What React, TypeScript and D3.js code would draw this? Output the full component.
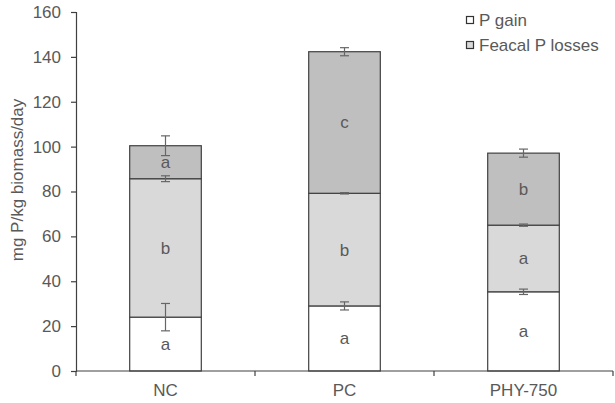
import React, { useEffect, useRef } from "react";
import * as d3 from "d3";

const categories = ["NC", "PC", "PHY-750"];
// stacked segments, bottom to top
const pGain = [24, 29, 35.3];
const middle = [61.7, 50.2, 29.7];
const feacal = [14.7, 63.1, 32.1];
const pGainErr = [6.1, 1.8, 1.2];
const middleErr = [1.3, 0.3, 0.5];
const feacalErr = [4.4, 1.8, 1.8];
const pGainLetters = ["a", "a", "a"];
const middleLetters = ["b", "b", "a"];
const feacalLetters = ["a", "c", "b"];
const yTicks = [0, 20, 40, 60, 80, 100, 120, 140, 160];
const legendLabels = ["P gain", "Feacal P losses"];

const W = 615;
const H = 403;
const margin = { top: 12, right: 2, bottom: 32, left: 76 };
const FONT = "Liberation Sans, Arial, sans-serif";
const FS = 17;
const TEXT = "#595959";
const LINE = "#404040";

const App = () => {
  const ref = useRef<SVGSVGElement>(null);

  useEffect(() => {
    const svg = d3.select(ref.current);
    svg.selectAll("*").remove();

    const x = d3
      .scaleBand()
      .domain(categories)
      .range([margin.left, W - margin.right])
      .paddingInner(0)
      .paddingOuter(0);
    const y = d3
      .scaleLinear()
      .domain([0, 160])
      .range([H - margin.bottom, margin.top]);

    const barW = x.bandwidth() * 0.4;

    const layers = [
      { vals: pGain, err: pGainErr, letters: pGainLetters, fill: "#ffffff" },
      { vals: middle, err: middleErr, letters: middleLetters, fill: "#d9d9d9" },
      { vals: feacal, err: feacalErr, letters: feacalLetters, fill: "#bfbfbf" },
    ];

    const g = svg.append("g");

    categories.forEach((c, i) => {
      let base = 0;
      const cx = x(c)! + x.bandwidth() / 2;
      layers.forEach((l) => {
        const top = base + l.vals[i];
        g.append("rect")
          .attr("x", cx - barW / 2)
          .attr("width", barW)
          .attr("y", y(top))
          .attr("height", y(base) - y(top))
          .attr("fill", l.fill)
          .attr("stroke", LINE)
          .attr("stroke-width", 1.2);
        g.append("text")
          .attr("x", cx)
          .attr("y", y((base + top) / 2))
          .attr("dy", "0.35em")
          .attr("text-anchor", "middle")
          .attr("font-family", FONT)
          .attr("font-size", FS)
          .attr("fill", TEXT)
          .text(l.letters[i]);
        base = top;
      });
      // error bars drawn on top
      let b2 = 0;
      layers.forEach((l) => {
        const top = b2 + l.vals[i];
        const e = l.err[i];
        const eg = g.append("g").attr("stroke", "#666").attr("stroke-width", 1.2);
        eg.append("line")
          .attr("x1", cx).attr("x2", cx)
          .attr("y1", y(top + e)).attr("y2", y(top - e));
        [top + e, top - e].forEach((v) => {
          eg.append("line")
            .attr("x1", cx - 4.5).attr("x2", cx + 4.5)
            .attr("y1", y(v)).attr("y2", y(v));
        });
        b2 = top;
      });
    });

    // y axis
    const yAxis = svg
      .append("g")
      .attr("transform", `translate(${margin.left},0)`)
      .call(d3.axisLeft(y).tickValues(yTicks).tickSize(5).tickPadding(10));
    yAxis.select(".domain").attr("stroke", LINE).attr("stroke-width", 1.2);
    yAxis.selectAll(".tick line").attr("stroke", LINE).attr("stroke-width", 1.2);
    yAxis
      .selectAll(".tick text")
      .attr("font-family", FONT)
      .attr("font-size", FS)
      .attr("fill", TEXT);

    // x axis
    const xg = svg.append("g");
    xg.append("line")
      .attr("x1", margin.left).attr("x2", W - margin.right)
      .attr("y1", y(0)).attr("y2", y(0))
      .attr("stroke", LINE).attr("stroke-width", 1.2);
    d3.range(categories.length + 1).forEach((i) => {
      const tx = margin.left + x.step() * i;
      xg.append("line")
        .attr("x1", tx).attr("x2", tx)
        .attr("y1", y(0)).attr("y2", y(0) + 5)
        .attr("stroke", LINE).attr("stroke-width", 1.2);
    });
    categories.forEach((c) => {
      xg.append("text")
        .attr("x", x(c)! + x.bandwidth() / 2)
        .attr("y", y(0) + 25)
        .attr("text-anchor", "middle")
        .attr("font-family", FONT)
        .attr("font-size", FS)
        .attr("fill", TEXT)
        .text(c);
    });

    // y title
    svg
      .append("text")
      .attr("transform", `translate(23,180) rotate(-90)`)
      .attr("text-anchor", "middle")
      .attr("font-family", FONT)
      .attr("font-size", FS)
      .attr("fill", TEXT)
      .text("mg P/kg biomass/day");

    // legend
    const legendFills = ["#ffffff", "#d9d9d9"];
    legendLabels.forEach((lab, i) => {
      const ly = 20.5 + i * 25;
      svg.append("rect")
        .attr("x", 466.5).attr("y", ly - 4)
        .attr("width", 7).attr("height", 7)
        .attr("fill", legendFills[i])
        .attr("stroke", "#333").attr("stroke-width", 1.2);
      svg.append("text")
        .attr("x", 479).attr("y", ly).attr("dy", "0.35em")
        .attr("font-family", FONT)
        .attr("font-size", FS)
        .attr("fill", TEXT)
        .text(lab);
    });
  }, []);

  return <svg ref={ref} width={W} height={H} style={{ display: "block", position: "absolute", left: 0, top: 0 }} />;
};

export default App;
